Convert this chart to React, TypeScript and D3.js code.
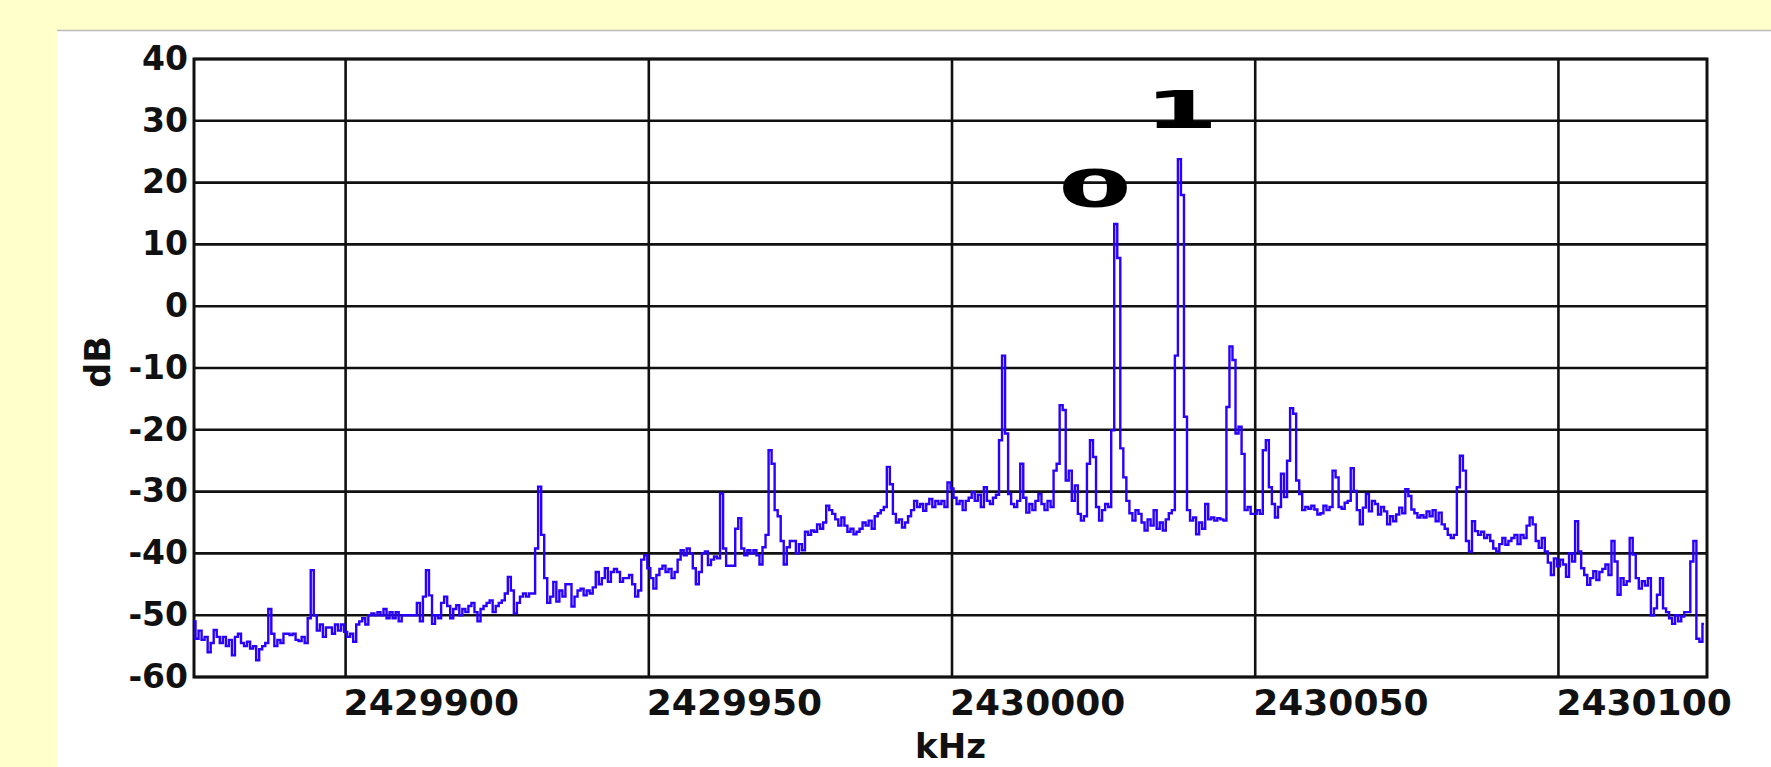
import { useEffect, useRef } from 'react'
import * as d3 from 'd3'

// spectrum, one level every 0.5 kHz starting at F_START
const F_START = 2429875
const F_STEP = 0.5
const levels = [
  -51, -53.8, -52.5, -54, -53.5, -56, -54.5, -52.4, -53.5, -54.5,
  -53.5, -55, -54, -56.5, -53.5, -53, -54.5, -55, -54.3, -55.4,
  -55, -57.3, -55.5, -55, -54.5, -49, -53, -55, -54, -54.5,
  -53, -53, -53.2, -53, -54, -54.2, -53.5, -54.5, -50.5, -42.7,
  -50, -52.5, -51.5, -53.5, -52, -52, -53, -51.5, -52.5, -51.5,
  -52.7, -53.5, -53, -54.3, -51.5, -51, -50.5, -51.5, -50, -49.7,
  -50, -49.5, -50, -49, -50.5, -49.5, -50.5, -49.5, -51, -50,
  -50, -50, -50, -50, -48, -51, -47, -42.7, -46.8, -51.4,
  -50, -50.5, -48, -47, -48.5, -50.5, -49, -48.4, -50, -49,
  -49.5, -48.5, -48, -49.5, -51, -49, -48.5, -48, -47.6, -49.5,
  -48.5, -48, -47.6, -46.5, -43.8, -46, -49.7, -48, -47, -46.5,
  -47, -46.5, -46.5, -39.2, -29.2, -37, -44, -48, -47, -44.6,
  -47.8, -46, -47, -45, -45, -48.6, -47, -46, -45.7, -46.8,
  -46, -46.5, -45.5, -43, -45, -44, -42.4, -44.6, -43, -42.5,
  -43, -44.6, -44, -44, -43.5, -45, -47, -46, -41, -40.3,
  -42.4, -44, -45.7, -43.5, -42.5, -42, -43, -42.5, -44, -43,
  -41, -39.5, -40.3, -39.2, -40, -42.4, -45, -43, -40, -39.7,
  -41.9, -41, -40.5, -40.8, -30.3, -39.2, -42, -42, -42, -36,
  -34.3, -39.2, -40.3, -39.5, -40, -39.5, -40.3, -41.8, -39, -37,
  -23.3, -25.5, -33, -34, -38, -41.8, -39, -38, -38, -40,
  -38.5, -39.5, -36.5, -37, -36.3, -36.5, -35.3, -36, -35, -32.3,
  -33, -33.6, -34.5, -35.5, -34.2, -35.5, -36.5, -36, -36.9, -36.5,
  -36, -35, -35.5, -34.7, -36, -34, -33.5, -33, -32.5, -26,
  -28.8, -33.6, -35, -34.5, -35.8, -35, -34, -33, -31.5, -32.5,
  -32, -33.1, -32, -31.2, -32.5, -31.5, -32, -31.5, -32.5, -28.5,
  -29.5, -31, -32, -31.5, -33, -31.5, -31, -30.1, -31.5, -30.5,
  -32.5, -29.3, -31.5, -32, -31, -30.5, -21.7, -8, -20.6, -30.4,
  -32, -32.5, -31.5, -25.5, -31, -33.4, -32, -33, -31.5, -30.4,
  -32, -33, -31.5, -32.5, -26.6, -25.5, -16, -16.8, -28.2, -26.6,
  -31.5, -29, -33.6, -34.7, -34, -25.5, -21.7, -24.4, -32.5, -34.7,
  -33, -32, -32.5, -20.1, 13.3, 7.8, -23, -27.7, -31.5, -33.5,
  -34.7, -33, -33.6, -35, -36.3, -34.5, -35.5, -33, -36, -35,
  -36.3, -34.5, -33.5, -33, -8, 23.8, 18, -17.9, -33, -34.7,
  -34.2, -36.9, -35, -36, -32, -34.5, -34.2, -34.7, -34.3, -34.5,
  -34.7, -16.3, -6.5, -8.7, -20.6, -19.5, -23.9, -33, -32.5, -33.6,
  -33.6, -33, -33.6, -23.3, -21.7, -29.3, -32, -34.2, -32.5, -27.1,
  -30.9, -25, -16.5, -17.4, -28.2, -30.4, -33, -32.5, -32.8, -32.3,
  -32.9, -33.7, -33.5, -32.3, -33, -32.5, -26.6, -27.7, -32.5, -32.8,
  -31.8, -31.5, -26.2, -29.9, -33, -35.3, -32.6, -30.4, -33.2, -31.5,
  -32, -33.7, -32.5, -33.2, -35.3, -34, -34.8, -33.7, -32.6, -33.5,
  -29.6, -30.7, -32.9, -33.5, -34.2, -33.8, -34.2, -33.2, -34, -33,
  -34.8, -33.4, -35.3, -36, -37, -37.5, -37, -29.3, -24.2, -26.6,
  -38, -39.7, -34.8, -36.4, -37, -36.5, -37.5, -37, -38, -39.2,
  -39.7, -38.5, -37.5, -38.6, -38, -37.5, -37, -38.5, -37, -37.5,
  -35.5, -34.2, -35.3, -38, -39.1, -37.5, -39.7, -41.5, -43.5, -40.8,
  -42.1, -41, -41.8, -43.8, -40, -41.3, -34.8, -39.7, -42.4, -43.5,
  -45.1, -44, -42.9, -44.3, -43, -42.5, -41.8, -43.5, -38, -41.3,
  -46.7, -44, -45.1, -44.5, -37.5, -40.2, -44, -45.7, -44.5, -45.2,
  -44, -50, -48.9, -46.7, -44, -48.9, -49.5, -50.5, -51.4, -50,
  -51, -50.2, -49.5, -49.5, -41.3, -38, -53.8, -54.3, -51.4
]

const xTicks = [2429900, 2429950, 2430000, 2430050, 2430100]
const yTicks = [-60, -50, -40, -30, -20, -10, 0, 10, 20, 30, 40]
const markerLabels = ['0', '1']
const markerFreqs = [2430023.6, 2430037.8]
const markerDb = [16, 28.9]

const W = 1771
const H = 767

const App = () => {
  const ref = useRef<SVGSVGElement>(null)

  useEffect(() => {
    const svg = d3.select(ref.current)
    svg.selectAll('*').remove()

    const left = 194
    const right = 1707
    const top = 59
    const bottom = 677
    const font = 'DejaVu Sans, Verdana, sans-serif'

    const x = d3.scaleLinear().domain([2429875, 2430124.5]).range([left, right])
    const y = d3.scaleLinear().domain([-60, 40]).range([bottom, top])

    svg.append('rect').attr('width', W).attr('height', H).attr('fill', '#ffffcc')
    svg.append('rect').attr('x', 57).attr('y', 30).attr('width', W - 57).attr('height', H - 30).attr('fill', '#fff')
    svg.append('line').attr('x1', 57).attr('x2', W).attr('y1', 30.5).attr('y2', 30.5).attr('stroke', '#bbb').attr('stroke-width', 1.5)

    const grid = svg.append('g').attr('stroke', '#111').attr('stroke-width', 2.6)
    grid.selectAll('line.h')
      .data(yTicks)
      .enter()
      .append('line')
      .attr('x1', left)
      .attr('x2', right)
      .attr('y1', (d) => y(d))
      .attr('y2', (d) => y(d))
    grid.selectAll('line.v')
      .data(xTicks)
      .enter()
      .append('line')
      .attr('x1', (d) => x(d))
      .attr('x2', (d) => x(d))
      .attr('y1', top)
      .attr('y2', bottom)
    grid.append('rect')
      .attr('x', left)
      .attr('y', top)
      .attr('width', right - left)
      .attr('height', bottom - top)
      .attr('fill', 'none')
      .attr('stroke-width', 3)

    const line = d3.line<number>()
      .curve(d3.curveStep)
      .x((d, i) => x(F_START + i * F_STEP))
      .y((d) => y(d))

    svg.append('path')
      .datum(levels)
      .attr('d', line)
      .attr('fill', 'none')
      .attr('stroke', '#2a00ff')
      .attr('stroke-width', 2.4)

    svg.append('g')
      .selectAll('text')
      .data(yTicks)
      .enter()
      .append('text')
      .attr('x', left - 6)
      .attr('y', (d) => y(d))
      .attr('dy', '0.33em')
      .attr('text-anchor', 'end')
      .attr('font-family', font)
      .attr('font-weight', 'bold')
      .attr('font-size', 33)
      .attr('fill', '#111')
      .text((d) => d)

    svg.append('g')
      .selectAll('text')
      .data(xTicks)
      .enter()
      .append('text')
      .attr('x', (d) => x(d) - 2)
      .attr('y', 715)
      .attr('text-anchor', 'start')
      .attr('font-family', font)
      .attr('font-weight', 'bold')
      .attr('font-size', 36)
      .attr('fill', '#111')
      .text((d) => d)

    svg.append('text')
      .attr('transform', `translate(110, 362) rotate(-90)`)
      .attr('text-anchor', 'middle')
      .attr('font-family', font)
      .attr('font-weight', 'bold')
      .attr('font-size', 35)
      .attr('fill', '#111')
      .text('dB')

    svg.append('text')
      .attr('x', (left + right) / 2)
      .attr('y', 758)
      .attr('text-anchor', 'middle')
      .attr('font-family', font)
      .attr('font-weight', 'bold')
      .attr('font-size', 34)
      .attr('fill', '#111')
      .text('kHz')

    svg.append('g')
      .selectAll('text')
      .data(markerLabels)
      .enter()
      .append('text')
      .attr('x', (d, i) => x(markerFreqs[i]) - 37)
      .attr('y', (d, i) => y(markerDb[i]))
      .attr('textLength', 74)
      .attr('lengthAdjust', 'spacingAndGlyphs')
      .attr('font-family', font)
      .attr('font-weight', 'bold')
      .attr('font-size', 52)
      .attr('fill', '#000')
      .text((d) => d)
  }, [])

  return (
    <svg
      ref={ref}
      width={W}
      height={H}
      style={{ position: 'absolute', left: 0, top: 0, display: 'block' }}
    />
  )
}

export default App
